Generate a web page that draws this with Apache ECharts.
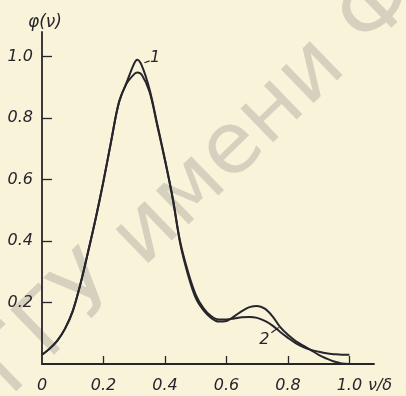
<!DOCTYPE html>
<html>
<head>
<meta charset="utf-8">
<script src="https://cdn.jsdelivr.net/npm/echarts@6/dist/echarts.min.js"></script>
<style>
  html, body { margin: 0; padding: 0; background: #f9f3d9; }
  #main { width: 406px; height: 396px; }
</style>
</head>
<body>
<div id="main"></div>
<script>
// nu/delta values shared by both curves
const nuValues = [0, 0.025, 0.05, 0.075, 0.1, 0.125, 0.15, 0.175, 0.2, 0.225, 0.25, 0.275, 0.3, 0.31,
  0.325, 0.35, 0.375, 0.4, 0.425, 0.45, 0.475, 0.5, 0.525, 0.55, 0.575, 0.6, 0.625, 0.65, 0.675,
  0.7, 0.725, 0.75, 0.775, 0.8, 0.825, 0.85, 0.875, 0.9, 0.925, 0.95, 0.975, 1.0];

// curve 1: taller main peak, higher second bump, falls to zero
const curve1 = [0.03, 0.05, 0.076, 0.115, 0.172, 0.26, 0.365, 0.475, 0.595, 0.725, 0.85, 0.915, 0.978, 0.99,
  0.97, 0.893, 0.78, 0.665, 0.54, 0.39, 0.29, 0.215, 0.175, 0.15, 0.138, 0.14, 0.155, 0.172, 0.185,
  0.189, 0.18, 0.155, 0.12, 0.095, 0.075, 0.06, 0.045, 0.03, 0.018, 0.008, 0.002, 0];

// curve 2: flatter main peak, lower second bump, tail stays at ~0.03
const curve2 = [0.03, 0.05, 0.076, 0.115, 0.172, 0.26, 0.365, 0.475, 0.595, 0.725, 0.85, 0.912, 0.943, 0.948,
  0.94, 0.885, 0.775, 0.662, 0.54, 0.395, 0.3, 0.226, 0.182, 0.156, 0.145, 0.145, 0.148, 0.152, 0.153,
  0.15, 0.14, 0.125, 0.104, 0.085, 0.068, 0.055, 0.046, 0.04, 0.035, 0.032, 0.03, 0.03];

const xTicks = [0, 0.2, 0.4, 0.6, 0.8, 1.0];
const yTicks = [0.2, 0.4, 0.6, 0.8, 1.0];

const ink = '#26252c';
const font = '"DejaVu Sans", sans-serif';

function pairs(ys) {
  return nuValues.map((x, i) => [x, ys[i]]);
}

function tickLabel(v) {
  return v === 0 ? '0' : v.toFixed(1);
}

const chart = echarts.init(document.getElementById('main'));

chart.setOption({
  backgroundColor: '#f9f3d9',
  animation: false,
  graphic: [{
    // library stamp across the scan
    type: 'text',
    x: 200,
    y: 182,
    z: -10,
    rotation: 0.77,
    silent: true,
    style: {
      text: 'ГГУ имени Ф',
      font: '86px "DejaVu Sans", sans-serif',
      fill: 'rgba(150,150,140,0.36)',
      align: 'center',
      verticalAlign: 'middle'
    }
  }],
  grid: { left: 42, right: 32, top: 32, bottom: 32 },
  xAxis: {
    type: 'value',
    min: 0,
    max: 1.08,
    name: 'ν/δ',
    nameLocation: 'end',
    nameGap: -7,
    nameTextStyle: {
      color: ink, fontSize: 16, fontStyle: 'italic', fontFamily: font,
      verticalAlign: 'top', padding: [14, 0, 0, 0]
    },
    axisLine: { lineStyle: { color: ink, width: 1.8 } },
    axisTick: { inside: true, length: 8, customValues: xTicks.slice(1), lineStyle: { color: ink, width: 1.3 } },
    axisLabel: {
      customValues: xTicks, formatter: tickLabel, margin: 14,
      color: ink, fontSize: 16, fontStyle: 'italic', fontFamily: font
    },
    splitLine: { show: false }
  },
  yAxis: {
    type: 'value',
    min: 0,
    max: 1.08,
    name: 'φ(ν)',
    nameLocation: 'end',
    nameGap: 1,
    nameTextStyle: { color: ink, fontSize: 17, fontStyle: 'italic', fontFamily: font, padding: [0, 0, 0, 6] },
    axisLine: { lineStyle: { color: ink, width: 1.8 } },
    axisTick: { inside: true, length: 10, customValues: yTicks, lineStyle: { color: ink, width: 1.3 } },
    axisLabel: {
      customValues: yTicks, formatter: tickLabel, margin: 9,
      color: ink, fontSize: 16, fontStyle: 'italic', fontFamily: font
    },
    splitLine: { show: false }
  },
  series: [
    {
      name: '1',
      type: 'line',
      data: pairs(curve1),
      smooth: 0.35,
      symbol: 'none',
      lineStyle: { color: ink, width: 2 },
      markLine: {
        silent: true, symbol: 'none', label: { show: false },
        lineStyle: { color: ink, width: 1.2, type: 'solid' },
        data: [[{ coord: [0.333, 0.98] }, { coord: [0.35, 0.986] }]]
      },
      markPoint: {
        symbol: 'circle', symbolSize: 1, itemStyle: { color: 'rgba(0,0,0,0)' },
        label: { show: true, position: 'inside', formatter: '1', color: ink, fontSize: 16, fontStyle: 'italic', fontFamily: font },
        data: [{ coord: [0.368, 0.997] }]
      }
    },
    {
      name: '2',
      type: 'line',
      data: pairs(curve2),
      smooth: 0.35,
      symbol: 'none',
      lineStyle: { color: ink, width: 2 },
      markLine: {
        silent: true, symbol: 'none', label: { show: false },
        lineStyle: { color: ink, width: 1.2, type: 'solid' },
        data: [[{ coord: [0.746, 0.102] }, { coord: [0.77, 0.119] }]]
      },
      markPoint: {
        symbol: 'circle', symbolSize: 1, itemStyle: { color: 'rgba(0,0,0,0)' },
        label: { show: true, position: 'inside', formatter: '2', color: ink, fontSize: 16, fontStyle: 'italic', fontFamily: font },
        data: [{ coord: [0.723, 0.08] }]
      }
    }
  ]
});
</script>
</body>
</html>
